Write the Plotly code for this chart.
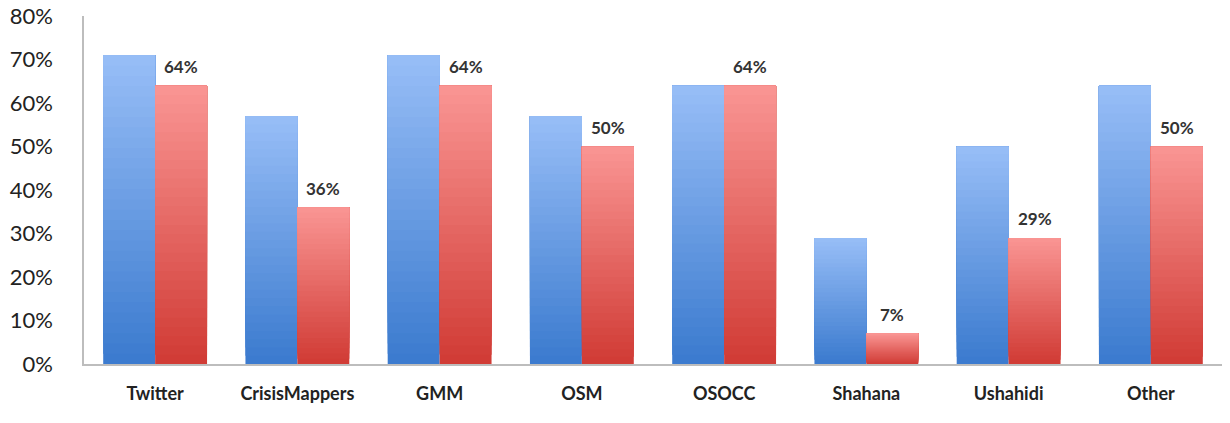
import plotly.graph_objects as go

categories = ["Twitter", "CrisisMappers", "GMM", "OSM", "OSOCC", "Shahana", "Ushahidi", "Other"]
blue_values = [71, 57, 71, 57, 64, 29, 50, 64]
red_values = [64, 36, 64, 50, 64, 7, 29, 50]
red_labels = ["64%", "36%", "64%", "50%", "64%", "7%", "29%", "50%"]
y_ticks = [0, 10, 20, 30, 40, 50, 60, 70, 80]

N = 30
BAR_W = 0.365


def lerp(c1, c2, t):
    return "rgb(%d,%d,%d)" % tuple(round(a + (b - a) * t) for a, b in zip(c1, c2))


series = [
    (blue_values, (58, 122, 206), (152, 190, 247), -BAR_W),
    (red_values, (208, 58, 52), (250, 150, 148), 0.0),
]

fig = go.Figure()
for vals, dark, light, off in series:
    for k in range(N):
        t = (k + 0.5) / N
        fig.add_trace(go.Bar(
            x=categories,
            y=[v * (N - k) / N for v in vals],
            base=[v * k / N for v in vals],
            offset=off,
            width=BAR_W,
            marker=dict(color=lerp(dark, light, t), line=dict(width=0)),
            hoverinfo="skip",
            showlegend=False,
        ))

for cat, v, lab in zip(categories, red_values, red_labels):
    fig.add_annotation(
        x=cat, y=v, text=lab, showarrow=False,
        xshift=26, yshift=19,
        font=dict(family="Lato, Open Sans, sans-serif", size=17, color="#333333", weight="bold"),
    )

fig.update_layout(
    barmode="overlay",
    width=1230,
    height=423,
    margin=dict(l=84, r=8, t=16, b=59, autoexpand=False),
    paper_bgcolor="white",
    plot_bgcolor="white",
)
fig.update_xaxes(
    showline=True, linecolor="#BDBDBD", linewidth=1.5,
    showgrid=False, ticks="",
    tickfont=dict(family="Lato, Open Sans, sans-serif", size=18, color="#222222", weight="bold"),
    ticklabelstandoff=13,
    automargin=False,
)
fig.update_yaxes(
    range=[0, 80.05], tickvals=y_ticks, ticktext=[f"{v}%" for v in y_ticks],
    showline=True, linecolor="#BDBDBD", linewidth=1.5,
    showgrid=False, zeroline=False, ticks="",
    tickfont=dict(family="Lato, Open Sans, sans-serif", size=22, color="#222222"),
    ticklabelstandoff=25,
    ticklabeloverflow="allow",
    automargin=False,
)

fig.write_html("out.html")
